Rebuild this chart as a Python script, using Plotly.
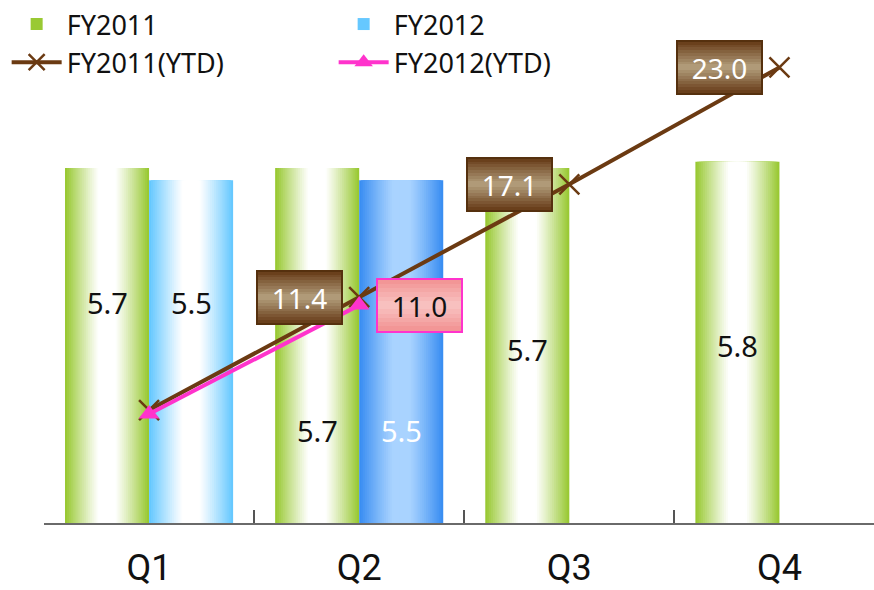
import plotly.graph_objects as go

# ---- data -------------------------------------------------------------
quarters = ["Q1", "Q2", "Q3", "Q4"]
fy2011 = [5.7, 5.7, 5.7, 5.8]
fy2012 = [5.5, 5.5, None, None]
fy2011_ytd = [5.7, 11.4, 17.1, 23.0]
fy2012_ytd = [5.5, 11.0, None, None]

# ---- styling ----------------------------------------------------------
FONT = "Noto Sans, DejaVu Sans, sans-serif"
AXIS_FONT = "Liberation Sans Narrow, Roboto, sans-serif"
BROWN = "#6b3a12"
MAGENTA = "#ff33cc"
BAR_W = 0.4
N_LAYERS = 22

# edge / centre colours per bar for the horizontal gradient
style_2011 = dict(offset=-0.2,
                  edge=["#99c933"] * 4,
                  centre=["#ffffff"] * 4,
                  label_color=["#111111"] * 4,
                  label_frac=[0.62, 0.26, 0.49, 0.49])
style_2012 = dict(offset=0.2,
                  edge=["#66c8ff", "#3a8ef2", "#66c8ff", "#66c8ff"],
                  centre=["#ffffff", "#a9d3ff", "#ffffff", "#ffffff"],
                  label_color=["#111111", "#ffffff", "#111111", "#111111"],
                  label_frac=[0.645, 0.27, 0.5, 0.5])


def hex2rgb(h):
    h = h.lstrip("#")
    return tuple(int(h[i:i + 2], 16) for i in (0, 2, 4))


def blend(c0, c1, t):
    a, b = hex2rgb(c0), hex2rgb(c1)
    return "rgb({},{},{})".format(*[round(x + (y - x) * t) for x, y in zip(a, b)])


fig = go.Figure()


def add_gradient_bars(name, values, st):
    # stacked overlaid bars of shrinking width give an edge-to-centre gradient
    for i in range(N_LAYERS):
        frac = 1 - i / N_LAYERS
        w = BAR_W * frac
        t = max(0.0, min(1.0, (frac - 0.22) / 0.78)) ** 1.1
        colors = [blend(c, e, t) for c, e in zip(st["centre"], st["edge"])]
        fig.add_trace(go.Bar(
            x=quarters, y=values, name=name,
            width=w, offset=st["offset"] - w / 2,
            marker=dict(color=colors, line=dict(width=0)),
            showlegend=(i == 0), legendgroup=name, legendrank=1 if name == "FY2011" else 2,
            hoverinfo="skip" if i else "x+y+name",
        ))


add_gradient_bars("FY2011", fy2011, style_2011)
add_gradient_bars("FY2012", fy2012, style_2012)

fig.add_trace(go.Scatter(
    x=quarters, y=fy2011_ytd, name="FY2011(YTD)", yaxis="y2",
    mode="lines+markers", legendrank=3,
    line=dict(color=BROWN, width=4),
    marker=dict(symbol="x-thin", size=20, line=dict(color=BROWN, width=2.5)),
))
fig.add_trace(go.Scatter(
    x=quarters, y=fy2012_ytd, name="FY2012(YTD)", yaxis="y2",
    mode="lines+markers", legendrank=4,
    line=dict(color=MAGENTA, width=4),
    marker=dict(symbol="triangle-up", size=18, color=MAGENTA),
))

annotations = []

# value labels inside the bars
for vals, st in ((fy2011, style_2011), (fy2012, style_2012)):
    for i, v in enumerate(vals):
        if v is None:
            continue
        annotations.append(dict(
            x=i + st["offset"], y=v * st["label_frac"][i], xref="x", yref="y",
            text=f"{v:.1f}", showarrow=False,
            font=dict(family=FONT, size=29, color=st["label_color"][i]),
        ))


def box_layers(dark, light, steps=9, full=51):
    # nested boxes from dark (outside) to light (middle) for a vertical sheen
    out = []
    for k in range(steps):
        h = round(full * (1 - k / steps))
        out.append((blend(dark, light, k / (steps - 1)), h))
    return out


# boxed cumulative labels
def ytd_box(i, v, xshift, layers, text_color, border):
    for k, (bg, h) in enumerate(layers):
        annotations.append(dict(
            x=i, y=v, xref="x", yref="y2", xshift=xshift,
            text="", showarrow=False, width=83, height=h,
            bgcolor=bg,
            bordercolor=border if k == 0 else "rgba(0,0,0,0)",
            borderwidth=2 if k == 0 else 0, borderpad=0,
        ))
    annotations.append(dict(
        x=i, y=v, xref="x", yref="y2", xshift=xshift,
        text=f"{v:.1f}", showarrow=False, width=83, height=51,
        font=dict(family=FONT, size=28, color=text_color),
        borderpad=0,
    ))


brown_layers = box_layers("#6a401c", "#b09a78")
pink_layers = box_layers("#f29696", "#f8c0bf", steps=6)

# the first quarter is left unlabelled; running totals start from Q2
for i, v in enumerate(fy2011_ytd):
    if i == 0:
        continue
    ytd_box(i, v, -60, brown_layers, "#ffffff", "#55300e")
for i, v in enumerate(fy2012_ytd):
    if i == 0 or v is None:
        continue
    ytd_box(i, v, 60, pink_layers, "#111111", MAGENTA)

fig.update_layout(
    width=874, height=590,
    margin=dict(l=44, r=0, t=0, b=67),
    paper_bgcolor="white", plot_bgcolor="white",
    barmode="overlay",
    font=dict(family=FONT, color="#111111"),
    showlegend=True,
    legend=dict(
        orientation="h", x=-0.045, y=1.01, xanchor="left", yanchor="top",
        entrywidth=262, entrywidthmode="pixels", itemwidth=50,
        font=dict(family=FONT, size=27, color="#111111"),
        bgcolor="rgba(0,0,0,0)", traceorder="normal",
        itemclick=False, itemdoubleclick=False,
    ),
    xaxis=dict(
        type="category", range=[-0.5, 3.45],
        tickson="boundaries", ticks="inside", ticklen=13, tickwidth=1.5, tickcolor="#555555",
        showline=True, linecolor="#6a6a6a", linewidth=2,
        showgrid=False, zeroline=False,
        tickfont=dict(family=AXIS_FONT, size=36, color="#111111"),
        ticklabelstandoff=12,
    ),
    yaxis=dict(range=[0, 523 / 62.9], visible=False, showgrid=False, zeroline=False),
    yaxis2=dict(range=[0, 523 / 20.0], overlaying="y", visible=False,
                showgrid=False, zeroline=False),
    annotations=annotations,
)

fig.write_html("out.html")
